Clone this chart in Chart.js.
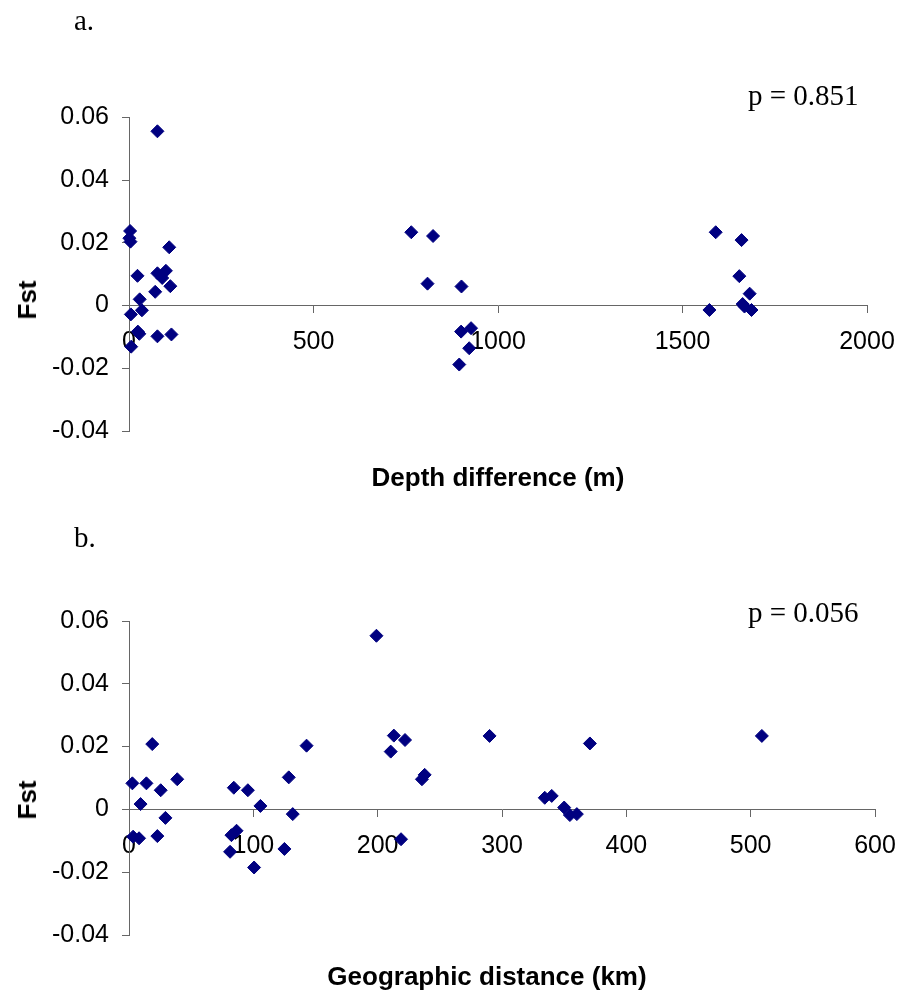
<!DOCTYPE html>
<html>
<head>
<meta charset="utf-8">
<script src="https://cdn.jsdelivr.net/npm/chart.js@4/dist/chart.umd.min.js"></script>
<style>
  html, body { margin: 0; padding: 0; background: #fff; }
  #page { position: relative; width: 898px; height: 994px; overflow: hidden; }
  canvas { position: absolute; left: 0; }
  .lbl { position: absolute; white-space: nowrap; line-height: 32px; color: #000; }
  .serif { font-family: "Liberation Serif", "Times New Roman", serif; font-size: 29px; }
  .title { font-family: "Liberation Sans", Arial, sans-serif; font-weight: bold; font-size: 26px; transform: translateX(-50%); }
  .ytitle { font-family: "Liberation Sans", Arial, sans-serif; font-weight: bold; font-size: 26px; transform: translate(-50%, -50%) rotate(-90deg); }
</style>
</head>
<body>
<div id="page">
  <canvas id="depthChart" width="898" height="497" style="top:0"></canvas>
  <canvas id="distChart" width="898" height="497" style="top:497px"></canvas>

  <div class="lbl serif" style="left:74px; top:4px">a.</div>
  <div class="lbl serif" style="left:748px; top:79px">p = 0.851</div>
  <div class="lbl title" style="left:498px; top:461px">Depth difference (m)</div>
  <div class="lbl ytitle" style="left:27px; top:300px">Fst</div>

  <div class="lbl serif" style="left:74px; top:521px">b.</div>
  <div class="lbl serif" style="left:748px; top:596px">p = 0.056</div>
  <div class="lbl title" style="left:487px; top:960px">Geographic distance (km)</div>
  <div class="lbl ytitle" style="left:27px; top:800px">Fst</div>
</div>

<script>
// Pairwise Fst against depth difference (m)
const depthDiff = [
  77, 3, 1, 4, 109, 23, 77, 100, 90, 112, 71, 29, 35, 5, 28, 24, 77, 115, 6,
  765, 824, 809, 901, 900, 927, 922, 895,
  1590, 1660, 1654, 1682, 1573, 1663, 1668, 1687
];
const depthFst = [
  0.0556, 0.0238, 0.0215, 0.0204, 0.0186, 0.0095, 0.0103, 0.0111, 0.0088, 0.0062,
  0.0044, 0.0020, -0.0015, -0.0028, -0.0090, -0.0083, -0.0098, -0.0092, -0.0131,
  0.0234, 0.0222, 0.0070, 0.0061, -0.0083, -0.0072, -0.0136, -0.0188,
  0.0234, 0.0209, 0.0094, 0.0038, -0.0014, 0.0005, -0.0003, -0.0014
];

// Pairwise Fst against geographic distance (km)
const geoDist = [
  2.7, 14, 18.7, 25.5, 38.8, 9.3, 29.3, 3.3, 8.1, 22.8,
  84.3, 95.6, 105.7, 82.4, 86.5, 81.3, 100.6, 128.5, 131.7, 125, 142.8,
  199, 213, 222, 210.5, 237.8, 235.6, 218.8, 290,
  370.7, 334.4, 340, 350, 354.6, 360.2, 509
];
const geoFst = [
  0.0083, 0.0083, 0.0208, 0.0061, 0.0096, 0.0017, -0.0027, -0.0087, -0.0092, -0.0085,
  0.0069, 0.0061, 0.0011, -0.0082, -0.0068, -0.0135, -0.0185, 0.0102, -0.0015, -0.0126, 0.0203,
  0.0553, 0.0235, 0.0221, 0.0184, 0.0110, 0.0096, -0.0095, 0.0234,
  0.0210, 0.0037, 0.0043, 0.0006, -0.0018, -0.0015, 0.0234
];

const fstTicks = [-0.04, -0.02, 0, 0.02, 0.04, 0.06];
const fstTickLabels = ['-0.04', '-0.02', '0', '0.02', '0.04', '0.06'];
const depthTicks = [0, 500, 1000, 1500, 2000];
const depthTickLabels = ['0', '500', '1000', '1500', '2000'];
const distTicks = [0, 100, 200, 300, 400, 500, 600];
const distTickLabels = ['0', '100', '200', '300', '400', '500', '600'];

const MARKER = '#000080';
const AXIS = '#666666';
const tickFont = { family: '"Liberation Sans", Arial, sans-serif', size: 25 };

function toPoints(xs, ys) {
  return xs.map((x, i) => ({ x, y: ys[i] }));
}

function makeScatter(canvasId, xs, ys, xTicks, xLabels, xMax, padding) {
  const ctx = document.getElementById(canvasId).getContext('2d');
  return new Chart(ctx, {
    type: 'scatter',
    data: {
      datasets: [{
        data: toPoints(xs, ys),
        pointStyle: 'rectRot',
        pointRadius: 6.5,
        backgroundColor: MARKER,
        borderColor: MARKER,
        borderWidth: 1,
        clip: false,
      }],
    },
    options: {
      responsive: false,
      animation: false,
      devicePixelRatio: 1,
      layout: { padding },
      plugins: {
        legend: { display: false },
        tooltip: { enabled: false },
      },
      scales: {
        x: {
          type: 'linear',
          position: { y: 0 },
          min: 0,
          max: xMax,
          afterBuildTicks: (scale) => { scale.ticks = xTicks.map((v) => ({ value: v })); },
          // the axis sits inside the plot, so its end labels shouldn't shrink the plot
          afterFit: (scale) => { scale.paddingLeft = 0; scale.paddingRight = 0; },
          ticks: {
            callback: (v, i) => xLabels[i],
            font: tickFont,
            color: '#000',
            padding: 15,
            maxRotation: 0,
            autoSkip: false,
          },
          grid: { drawOnChartArea: false, drawTicks: true, tickLength: 7, color: AXIS },
          border: { display: true, color: AXIS, width: 1 },
        },
        y: {
          type: 'linear',
          position: 'left',
          min: -0.04,
          max: 0.06,
          afterBuildTicks: (scale) => { scale.ticks = fstTicks.map((v) => ({ value: v })); },
          afterFit: (scale) => { scale.width = 129; },
          ticks: {
            callback: (v, i) => fstTickLabels[i],
            font: tickFont,
            color: '#000',
            padding: 13,
            autoSkip: false,
          },
          grid: { drawOnChartArea: false, drawTicks: true, tickLength: 7, color: AXIS },
          border: { display: true, color: AXIS, width: 1 },
        },
      },
    },
  });
}

makeScatter('depthChart', depthDiff, depthFst, depthTicks, depthTickLabels, 2000,
  { top: 117.5, right: 31, bottom: 66, left: 0 });
makeScatter('distChart', geoDist, geoFst, distTicks, distTickLabels, 600,
  { top: 124, right: 23, bottom: 59, left: 0 });
</script>
</body>
</html>
